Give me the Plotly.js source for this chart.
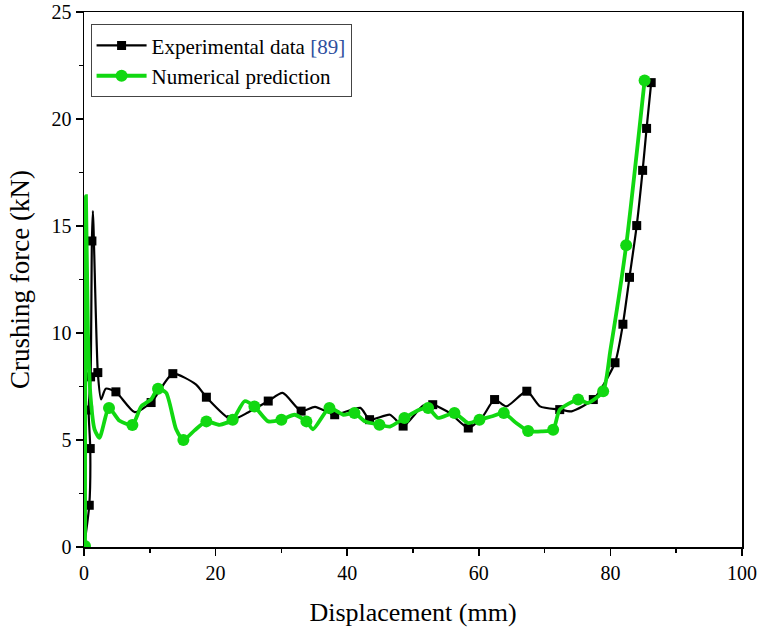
<!DOCTYPE html>
<html>
<head>
<meta charset="utf-8">
<script src="https://cdn.plot.ly/plotly-3.0.1.min.js"></script>
<style>html,body{margin:0;padding:0;background:#fff;}#chart{width:761px;height:634px;}</style>
</head>
<body>
<div id="chart"></div>
<script>
// Experimental data [89]: full curve
const expLineX = [0.0, 0.8, 0.95, 0.7, 1.0, 1.2, 1.35, 2.1, 2.6, 3.3, 4.85, 7.7, 10.2, 13.5, 17.0, 18.6, 22.4, 25.0, 28.0, 30.2, 33.0, 35.1, 38.1, 42.0, 43.4, 46.5, 48.5, 51.5, 53.0, 55.6, 58.4, 60.6, 62.4, 64.2, 67.3, 69.3, 72.3, 74.1, 77.4, 80.7, 81.9, 82.9, 84.0, 84.9, 85.5, 86.2];
const expLineY = [0.0, 1.95, 4.6, 6.4, 7.95, 14.3, 15.7, 8.15, 6.9, 7.4, 7.25, 6.3, 6.75, 8.1, 7.6, 7.0, 5.95, 6.3, 6.82, 7.2, 6.35, 6.55, 6.18, 6.5, 5.95, 6.18, 5.65, 6.6, 6.65, 6.26, 5.56, 6.1, 6.89, 6.57, 7.28, 6.57, 6.42, 6.34, 6.89, 8.61, 10.41, 12.6, 15.02, 17.6, 19.56, 21.7];
// Experimental data [89]: marked points
const expMarkX = [0.8, 0.95, 0.7, 1.0, 1.2, 2.1, 4.85, 10.2, 13.5, 18.6, 22.4, 28.0, 33.0, 38.1, 43.4, 48.5, 53.0, 58.4, 62.4, 67.3, 72.3, 77.4, 80.7, 81.9, 82.9, 84.0, 84.9, 85.5, 86.2];
const expMarkY = [1.95, 4.6, 6.4, 7.95, 14.3, 8.15, 7.25, 6.75, 8.1, 7.0, 5.95, 6.82, 6.35, 6.18, 5.95, 5.65, 6.65, 5.56, 6.89, 7.28, 6.42, 6.89, 8.61, 10.41, 12.6, 15.02, 17.6, 19.56, 21.7];

// Numerical prediction: full curve
const numLineX = [0.15, 0.3, 0.6, 1.0, 1.6, 2.35, 3.8, 5.4, 7.35, 8.7, 10.2, 11.25, 12.5, 14.0, 15.1, 16.8, 18.6, 20.6, 22.6, 24.4, 25.9, 28.0, 30.0, 32.0, 33.8, 34.8, 37.3, 39.4, 41.1, 42.7, 44.9, 46.5, 48.7, 51.0, 52.3, 53.8, 56.3, 58.4, 60.1, 61.9, 63.8, 65.7, 67.5, 69.5, 71.3, 72.3, 75.1, 76.6, 78.9, 80.0, 82.4, 85.2];
const numLineY = [0.05, 16.4, 10.0, 7.0, 5.5, 5.1, 6.5, 5.9, 5.7, 6.57, 6.9, 7.4, 7.2, 5.5, 5.0, 5.45, 5.87, 5.71, 5.95, 6.81, 6.57, 5.87, 5.95, 6.18, 5.87, 5.5, 6.5, 6.18, 6.26, 5.87, 5.71, 5.63, 6.03, 6.42, 6.5, 6.03, 6.26, 5.79, 5.95, 6.1, 6.26, 5.79, 5.42, 5.4, 5.48, 6.42, 6.89, 6.73, 7.28, 9.2, 14.1, 21.8];
// Numerical prediction: marked points
const numMarkX = [0.15, 3.8, 7.35, 11.25, 15.1, 18.6, 22.6, 25.9, 30.0, 33.8, 37.3, 41.1, 44.9, 48.7, 52.3, 56.3, 60.1, 63.8, 67.5, 71.3, 75.1, 78.9, 82.4, 85.2];
const numMarkY = [0.05, 6.5, 5.7, 7.4, 5.0, 5.87, 5.95, 6.57, 5.95, 5.87, 6.5, 6.26, 5.71, 6.03, 6.5, 6.26, 5.95, 6.26, 5.42, 5.48, 6.89, 7.28, 14.1, 21.8];

const seriesNames = ['Experimental data <span style="color:#2e4f9e">[89]</span>', 'Numerical prediction'];

const BLACK = '#000000';
const GREEN = '#11d811';

const traces = [
  {x: expLineX, y: expLineY, mode: 'lines', line: {color: BLACK, width: 2.2, shape: 'spline', smoothing: 0.6}, showlegend: false, hoverinfo: 'skip'},
  {x: expMarkX, y: expMarkY, mode: 'markers', marker: {color: BLACK, symbol: 'square', size: 9}, showlegend: false},
  {x: numLineX, y: numLineY, mode: 'lines', line: {color: GREEN, width: 3.8, shape: 'spline', smoothing: 0.6}, showlegend: false, hoverinfo: 'skip'},
  {x: numMarkX, y: numMarkY, mode: 'markers', marker: {color: GREEN, symbol: 'circle', size: 12}, showlegend: false},
  {x: [null], y: [null], name: seriesNames[0], mode: 'lines+markers', line: {color: BLACK, width: 2.2}, marker: {color: BLACK, symbol: 'square', size: 9}},
  {x: [null], y: [null], name: seriesNames[1], mode: 'lines+markers', line: {color: GREEN, width: 3.8}, marker: {color: GREEN, symbol: 'circle', size: 12}}
];

const FONT = 'Liberation Serif, Times New Roman, serif';

const layout = {
  width: 761, height: 634,
  margin: {l: 84, r: 19, t: 12, b: 87},
  paper_bgcolor: '#fff', plot_bgcolor: '#fff',
  font: {family: FONT, color: '#000', size: 18},
  showlegend: true,
  legend: {x: 0.01, y: 0.977, xanchor: 'left', yanchor: 'top', bgcolor: 'rgba(255,255,255,1)', bordercolor: '#444', borderwidth: 1, font: {family: FONT, size: 21, color: '#000'}, itemwidth: 50, tracegroupgap: 0},
  xaxis: {
    range: [0, 100], dtick: 20, tick0: 0,
    showgrid: false, zeroline: false,
    showline: true, linecolor: '#000', linewidth: 1.5, mirror: true,
    ticks: 'outside', ticklen: 7, tickwidth: 1.5, tickcolor: '#000',
    minor: {dtick: 10, ticklen: 4, tickwidth: 1.5, tickcolor: '#000', ticks: 'outside', showgrid: false},
    tickfont: {family: FONT, size: 20},
    title: {text: 'Displacement (mm)', font: {family: FONT, size: 26}, standoff: 20}
  },
  yaxis: {
    range: [0, 25], dtick: 5, tick0: 0,
    showgrid: false, zeroline: false,
    showline: true, linecolor: '#000', linewidth: 1.5, mirror: true,
    ticks: 'outside', ticklen: 7, tickwidth: 1.5, tickcolor: '#000',
    minor: {dtick: 2.5, ticklen: 4, tickwidth: 1.5, tickcolor: '#000', ticks: 'outside', showgrid: false},
    tickfont: {family: FONT, size: 20},
    title: {text: 'Crushing force (kN)', font: {family: FONT, size: 27}, standoff: 14}
  }
};

Plotly.newPlot('chart', traces, layout, {displayModeBar: false, staticPlot: true});
</script>
</body>
</html>
